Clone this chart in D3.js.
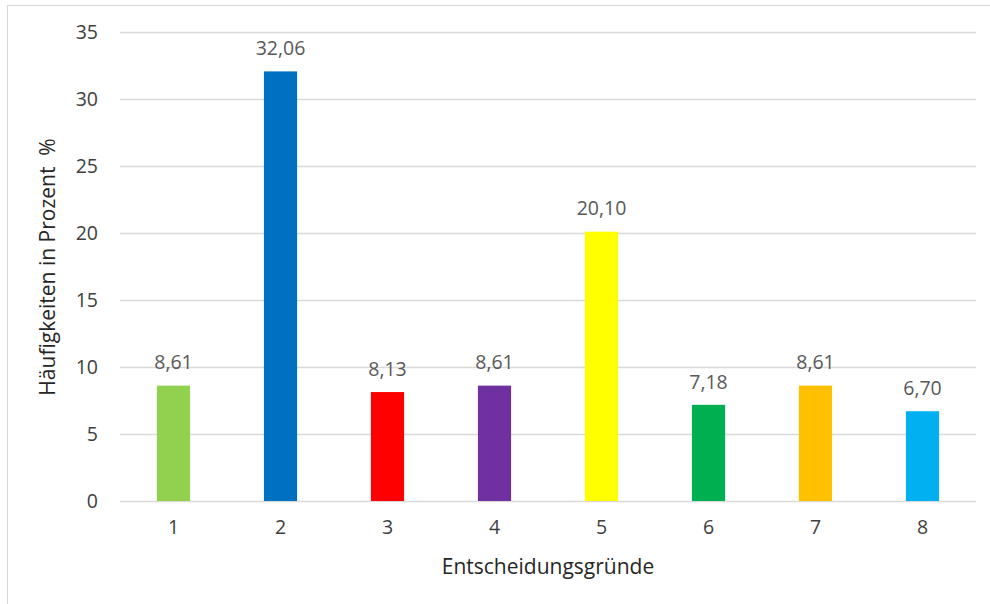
<!DOCTYPE html>
<html>
<head>
<meta charset="utf-8">
<script src="https://cdn.jsdelivr.net/npm/d3@7"></script>
<style>
  body { margin: 0; background: #fff; }
  svg { display: block; font-family: "Open Sans", sans-serif; }
</style>
</head>
<body>
<svg id="chart"></svg>
<script>
// data
const categories = ['1', '2', '3', '4', '5', '6', '7', '8'];
const values = [8.61, 32.06, 8.13, 8.61, 20.10, 7.18, 8.61, 6.70];
const barColors = ['#92D050', '#0070C0', '#FF0000', '#7030A0', '#FFFF00', '#00B050', '#FFC000', '#00B0F0'];
const yTicks = [0, 5, 10, 15, 20, 25, 30, 35];

const width = 990, height = 604;
const margins = { top: 32, right: 14, bottom: 103, left: 120 };

const svg = d3.select('#chart')
    .attr('width', width)
    .attr('height', height);

// chart frame (only top/left edges fall inside the picture)
svg.append('rect')
    .attr('x', 7.5).attr('y', 5.5)
    .attr('width', width + 20).attr('height', height + 20)
    .attr('fill', 'none')
    .attr('stroke', '#d9d9d9')
    .attr('stroke-width', 1);

const x = d3.scaleBand()
    .domain(categories)
    .range([margins.left, width - margins.right])
    .paddingInner(0.69)
    .paddingOuter(0.345);

const y = d3.scaleLinear()
    .domain([0, 35])
    .range([height - margins.bottom, margins.top]);

// gridlines
svg.append('g')
    .selectAll('line')
    .data(yTicks)
    .join('line')
    .attr('x1', margins.left)
    .attr('x2', width - margins.right)
    .attr('y1', d => y(d) + 0.5)
    .attr('y2', d => y(d) + 0.5)
    .attr('stroke', '#d9d9d9')
    .attr('stroke-width', 1.5);

// y axis labels
const yAxis = d3.axisLeft(y).tickValues(yTicks).tickSize(0).tickPadding(22);
svg.append('g')
    .attr('transform', `translate(${margins.left}, 0)`)
    .call(yAxis)
    .call(g => g.select('.domain').remove())
    .call(g => g.selectAll('text')
        .attr('font-size', 19.5)
        .attr('font-family', '"Open Sans", sans-serif')
        .attr('fill', '#404040'));

// x axis labels
const xAxis = d3.axisBottom(x).tickSize(0).tickPadding(19);
svg.append('g')
    .attr('transform', `translate(0, ${y(0)})`)
    .call(xAxis)
    .call(g => g.select('.domain').remove())
    .call(g => g.selectAll('text')
        .attr('font-size', 19.5)
        .attr('font-family', '"Open Sans", sans-serif')
        .attr('fill', '#404040'));

// bars
svg.append('g')
    .selectAll('rect')
    .data(values)
    .join('rect')
    .attr('x', (d, i) => x(categories[i]))
    .attr('width', x.bandwidth())
    .attr('y', d => y(d))
    .attr('height', d => y(0) - y(d))
    .attr('fill', (d, i) => barColors[i]);

// value labels
const fmt = d => d.toFixed(2).replace('.', ',');
svg.append('g')
    .selectAll('text')
    .data(values)
    .join('text')
    .attr('x', (d, i) => x(categories[i]) + x.bandwidth() / 2)
    .attr('y', d => y(d) - 23)
    .attr('dy', '0.35em')
    .attr('text-anchor', 'middle')
    .attr('font-size', 19.5)
    .attr('fill', '#595959')
    .text(fmt);

// axis titles
svg.append('text')
    .attr('x', 548)
    .attr('y', 567)
    .attr('dy', '0.35em')
    .attr('text-anchor', 'middle')
    .attr('font-size', 21)
    .attr('fill', '#262626')
    .text('Entscheidungsgründe');

svg.append('text')
    .attr('transform', `translate(48, 267)rotate(-90)`)
    .attr('dy', '0.35em')
    .attr('text-anchor', 'middle')
    .attr('font-size', 21)
    .attr('fill', '#262626')
    .style('white-space', 'pre')
    .text('Häufigkeiten in Prozent  %');
</script>
</body>
</html>
